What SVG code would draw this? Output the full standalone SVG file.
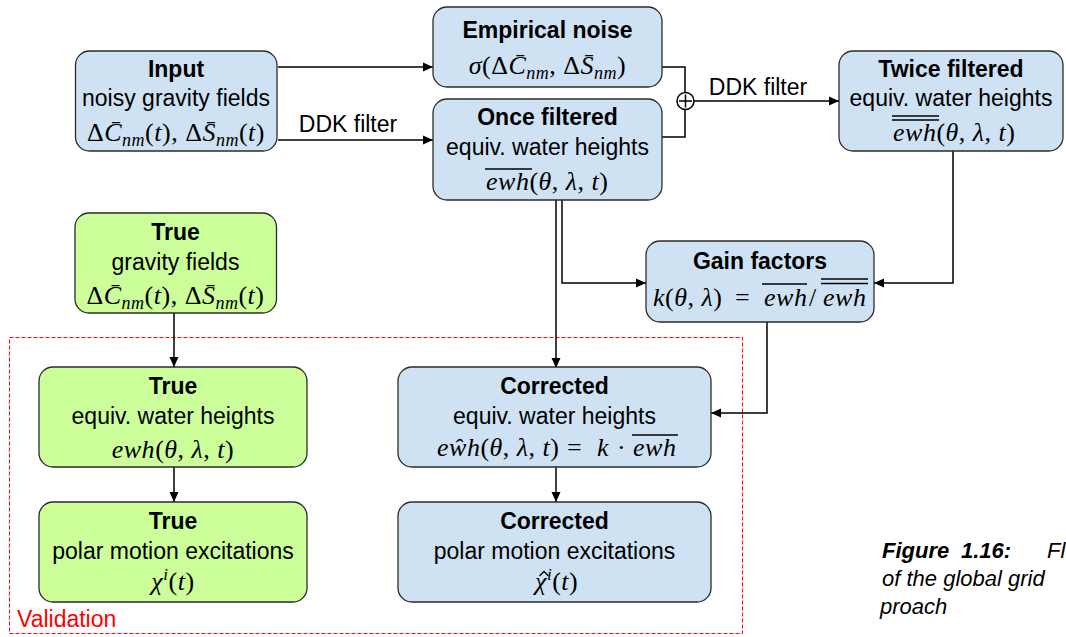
<svg xmlns="http://www.w3.org/2000/svg" width="1066" height="637" viewBox="0 0 1066 637">
<style>
  .blue { fill: #cfe2f3; stroke: #2b2b2b; stroke-width: 1.3; }
  .green { fill: #ccff99; stroke: #2b2b2b; stroke-width: 1.3; }
  .t { font-family: "Liberation Sans", Arial, sans-serif; font-size: 23px; font-weight: bold; fill: #000; text-anchor: middle; }
  .l { font-family: "Liberation Sans", Arial, sans-serif; font-size: 23px; fill: #000; text-anchor: middle; }
  .m { font-family: "Liberation Serif", "Times New Roman", serif; font-size: 26px; fill: #000; letter-spacing: 0.5px; }
  .mc { text-anchor: middle; }
  .i { font-style: italic; }
  .sub { font-size: 18px; font-style: italic; }
  .sup { font-size: 17px; font-style: italic; }
  .ov { stroke: #000; stroke-width: 1.3; fill: none; }
  .conn { fill: none; stroke: #000; stroke-width: 1.5; }
  .cap { font-family: "Liberation Sans", Arial, sans-serif; font-size: 22px; font-style: italic; fill: #000; }
</style>
<defs>
  <marker id="ah" viewBox="0 0 10 10" refX="10" refY="5" markerWidth="10" markerHeight="10" markerUnits="userSpaceOnUse" orient="auto">
    <path d="M0,0.5 L10,5 L0,9.5 z" fill="#000"/>
  </marker>
</defs>
<rect width="1066" height="637" fill="#fff"/>

<g id="validation">
  <rect x="9.5" y="337.5" width="733" height="296" fill="none" stroke="#ff0000" stroke-width="1" stroke-dasharray="4,2"/>
  <text x="17" y="627" font-family="Liberation Sans, Arial, sans-serif" font-size="23" fill="#ff0000">Validation</text>
</g>

<g id="connectors">
  <path class="conn" d="M278,67 H433" marker-end="url(#ah)"/>
  <path class="conn" d="M278,140 H433" marker-end="url(#ah)"/>
  <text class="l" x="348" y="132">DDK filter</text>
  <path class="conn" d="M662,67 H685 V137 H662"/>
  <path class="conn" d="M694,101 H839" marker-end="url(#ah)"/>
  <text class="l" x="758" y="95">DDK filter</text>
  <path class="conn" d="M953,151 V283 H874" marker-end="url(#ah)"/>
  <path class="conn" d="M562,200 V283 H646" marker-end="url(#ah)"/>
  <path class="conn" d="M556,200 V368" marker-end="url(#ah)"/>
  <path class="conn" d="M767,322 V413 H711" marker-end="url(#ah)"/>
  <path class="conn" d="M174,313 V367" marker-end="url(#ah)"/>
  <path class="conn" d="M174,467 V502" marker-end="url(#ah)"/>
  <path class="conn" d="M556,467 V502" marker-end="url(#ah)"/>
</g>

<g id="sum">
  <circle cx="685.5" cy="101" r="8.5" fill="#fff" stroke="#000" stroke-width="1.5"/>
  <path d="M679,101 H692 M685.5,94.5 V107.5" stroke="#000" stroke-width="1.5"/>
</g>

<g id="input">
  <rect class="blue" x="75.5" y="51" width="201.5" height="100" rx="14"/>
  <text class="t" x="176" y="77">Input</text>
  <text class="l" x="176" y="106">noisy gravity fields</text>
  <text class="m mc" x="176" y="141">Δ<tspan class="i">C̄</tspan><tspan class="sub" dy="5">nm</tspan><tspan dy="-5">(</tspan><tspan class="i">t</tspan>), Δ<tspan class="i">S̄</tspan><tspan class="sub" dy="5">nm</tspan><tspan dy="-5">(</tspan><tspan class="i">t</tspan>)</text>
</g>

<g id="empirical-noise">
  <rect class="blue" x="433" y="7" width="229" height="80" rx="14"/>
  <text class="t" x="547.5" y="38">Empirical noise</text>
  <text class="m mc" x="547.5" y="74"><tspan class="i">σ</tspan>(Δ<tspan class="i">C̄</tspan><tspan class="sub" dy="5">nm</tspan><tspan dy="-5">, Δ</tspan><tspan class="i">S̄</tspan><tspan class="sub" dy="5">nm</tspan><tspan dy="-5">)</tspan></text>
</g>

<g id="once-filtered">
  <rect class="blue" x="433" y="99" width="229" height="101" rx="14"/>
  <text class="t" x="547.5" y="125">Once filtered</text>
  <text class="l" x="547.5" y="155">equiv. water heights</text>
  <text class="m" y="190"><tspan class="i" x="486">ewh</tspan>(<tspan class="i">θ</tspan>, <tspan class="i">λ</tspan>, <tspan class="i">t</tspan>)</text>
  <line class="ov" x1="485" y1="169" x2="532" y2="169"/>
</g>

<g id="twice-filtered">
  <rect class="blue" x="839" y="51" width="224" height="100" rx="14"/>
  <text class="t" x="951" y="77">Twice filtered</text>
  <text class="l" x="951" y="106">equiv. water heights</text>
  <text class="m" y="141"><tspan class="i" x="893">ewh</tspan>(<tspan class="i">θ</tspan>, <tspan class="i">λ</tspan>, <tspan class="i">t</tspan>)</text>
  <line class="ov" x1="892" y1="116" x2="939" y2="116"/>
  <line class="ov" x1="892" y1="120" x2="939" y2="120"/>
</g>

<g id="true-gravity">
  <rect class="green" x="75" y="213" width="201.5" height="100" rx="14"/>
  <text class="t" x="175.5" y="240">True</text>
  <text class="l" x="175.5" y="270">gravity fields</text>
  <text class="m mc" x="175.5" y="304">Δ<tspan class="i">C̄</tspan><tspan class="sub" dy="5">nm</tspan><tspan dy="-5">(</tspan><tspan class="i">t</tspan>), Δ<tspan class="i">S̄</tspan><tspan class="sub" dy="5">nm</tspan><tspan dy="-5">(</tspan><tspan class="i">t</tspan>)</text>
</g>

<g id="gain-factors">
  <rect class="blue" x="646" y="241" width="228" height="81" rx="14"/>
  <text class="t" x="760" y="269">Gain factors</text>
  <text class="m" y="306"><tspan class="i" x="653">k</tspan>(<tspan class="i">θ</tspan>, <tspan class="i">λ</tspan>)<tspan x="735">=</tspan><tspan class="i" x="764">ewh</tspan><tspan x="809">/</tspan><tspan class="i" x="823">ewh</tspan></text>
  <line class="ov" x1="762" y1="284" x2="807" y2="284"/>
  <line class="ov" x1="821" y1="279" x2="868" y2="279"/>
  <line class="ov" x1="821" y1="283.5" x2="868" y2="283.5"/>
</g>

<g id="true-ewh">
  <rect class="green" x="39" y="367" width="268" height="100" rx="14"/>
  <text class="t" x="173" y="394">True</text>
  <text class="l" x="173" y="424">equiv. water heights</text>
  <text class="m mc" x="173" y="458"><tspan class="i">ewh</tspan>(<tspan class="i">θ</tspan>, <tspan class="i">λ</tspan>, <tspan class="i">t</tspan>)</text>
</g>

<g id="corrected-ewh">
  <rect class="blue" x="398" y="367" width="313" height="100" rx="14"/>
  <text class="t" x="554.5" y="394">Corrected</text>
  <text class="l" x="554.5" y="424">equiv. water heights</text>
  <text class="m" y="456"><tspan class="i" x="437">eŵh</tspan>(<tspan class="i">θ</tspan>, <tspan class="i">λ</tspan>, <tspan class="i">t</tspan>)<tspan x="567">=</tspan><tspan class="i" x="597">k</tspan><tspan x="617">·</tspan><tspan class="i" x="633">ewh</tspan></text>
  <line class="ov" x1="632" y1="435" x2="678" y2="435"/>
</g>

<g id="true-polar">
  <rect class="green" x="39" y="502" width="268" height="100" rx="14"/>
  <text class="t" x="173" y="529">True</text>
  <text class="l" x="173" y="559">polar motion excitations</text>
  <text class="m mc" x="173" y="590"><tspan class="i">χ</tspan><tspan class="sup" dy="-10">i</tspan><tspan dy="10">(</tspan><tspan class="i">t</tspan>)</text>
</g>

<g id="corrected-polar">
  <rect class="blue" x="398" y="502" width="313" height="100" rx="14"/>
  <text class="t" x="554.5" y="529">Corrected</text>
  <text class="l" x="554.5" y="559">polar motion excitations</text>
  <text class="m" x="535" y="590"><tspan class="i">χ</tspan><tspan class="sup" dy="-10">i</tspan><tspan dy="10">(</tspan><tspan class="i">t</tspan>)</text>
  <path class="ov" d="M539.5,576 L544,571.5 L548.5,576"/>
</g>

<g id="caption">
  <text class="cap" y="558"><tspan x="882" font-weight="bold">Figure</tspan><tspan x="961" font-weight="bold">1.16:</tspan><tspan x="1047">Fl</tspan></text>
  <text class="cap" x="882" y="586">of the global grid</text>
  <text class="cap" x="880" y="614">proach</text>
</g>
</svg>
